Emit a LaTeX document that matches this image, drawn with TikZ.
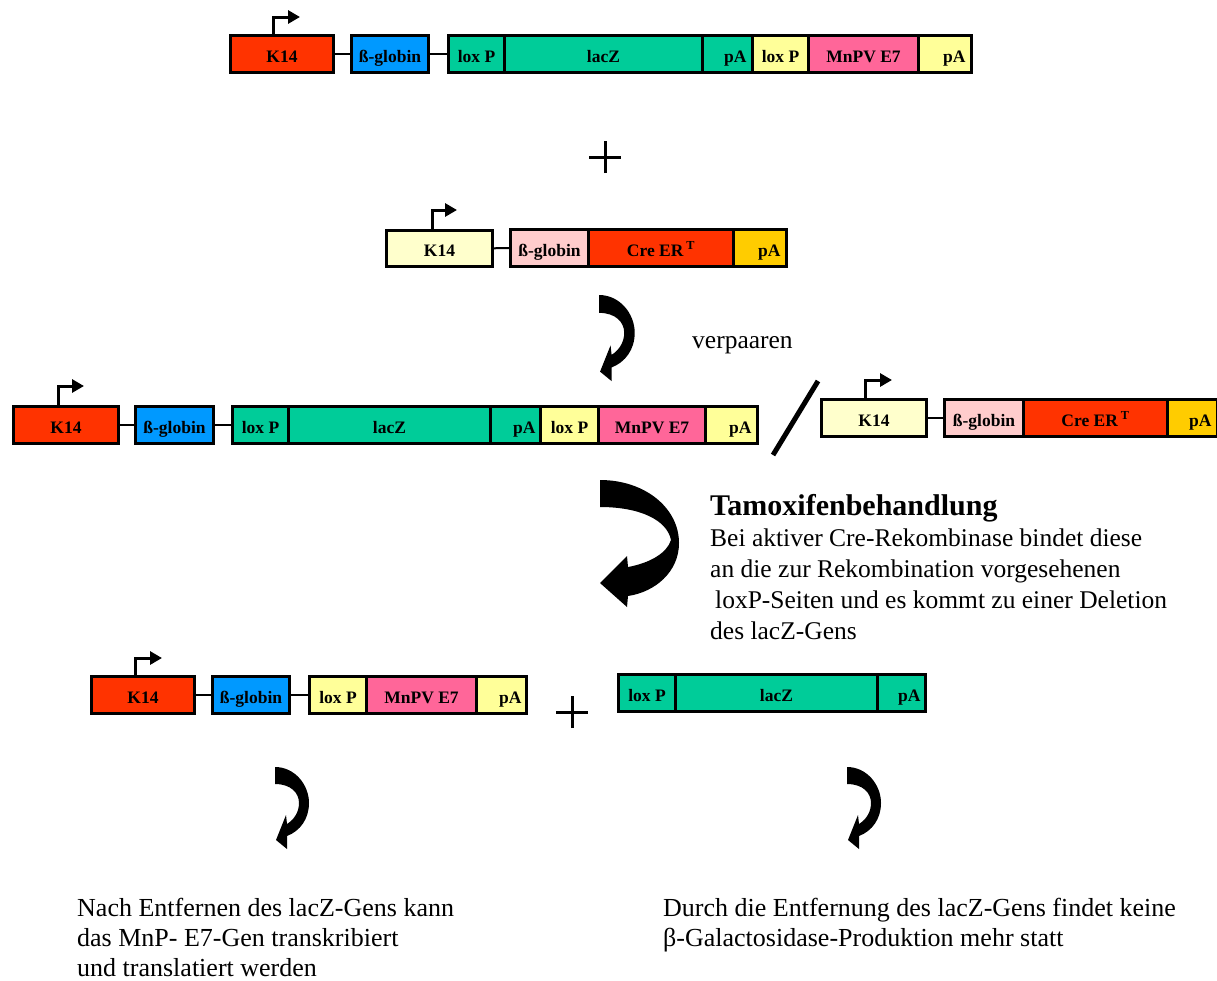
\documentclass[tikz,border=0pt]{standalone}
\usepackage{fontspec}
\setmainfont{Liberation Serif}
\usetikzlibrary{arrows.meta}
\definecolor{kred}{HTML}{FF3300}
\definecolor{gblue}{HTML}{0099FF}
\definecolor{lteal}{HTML}{00CC99}
\definecolor{lyel}{HTML}{FFFF99}
\definecolor{mpink}{HTML}{FF6699}
\definecolor{kcream}{HTML}{FFFFCC}
\definecolor{grose}{HTML}{FFCCCC}
\definecolor{porange}{HTML}{FFCC00}

\begin{document}
\begin{tikzpicture}
  [x=1pt, y=-1pt,
    seg/.style={draw, line width=3pt, inner sep=0pt, minimum height=37, anchor=north west,
      text height=17pt, text depth=1pt, font=\bfseries\fontsize{17.5}{17.5}\selectfont},
    link/.style={line width=2pt},
    prom/.style={line width=3pt, -{Triangle[length=12pt,width=13pt]}},
    plus/.style={line width=3pt},
    body/.style={anchor=base west, align=left, inner sep=0pt, font=\fontsize{25.5}{31}\selectfont},
    bendarrow/.pic={
      \fill (0,0) .. controls (20,0) and (34,18) .. (34,36)
        .. controls (34,52) and (25,64) .. (12,69) -- (12,82) -- (1,73) -- (11,48) -- (12,57)
        .. controls (20,52) and (24,44) .. (24,36) .. controls (24,26) and (16,17) .. (0,17) -- cycle;
    },
  ]
  \useasboundingbox (0,0) rectangle (1217,980);

  % first construct
  \node[seg, fill=kred, minimum width=103] (aK) at (229,34) {K14};
  \node[seg, fill=gblue, minimum width=77] (aG) at (350,34) {ß-globin};
  \node[seg, fill=lteal, minimum width=56] (aL) at (447,34) {lox P};
  \node[seg, fill=lteal, minimum width=198] (aZ) at (503,34) {lacZ};
  \node[seg, fill=lteal, minimum width=50, text width=38pt, align=right] (aA) at (701,34) {pA};
  \node[seg, fill=lyel, minimum width=56] (aL2) at (751,34) {lox P};
  \node[seg, fill=mpink, minimum width=110] (aE) at (807,34) {MnPV E7};
  \node[seg, fill=lyel, minimum width=53, text width=41pt, align=right] (aA2) at (917,34) {pA};
  \draw[link] (aK) -- (aG);
  \draw[link] (aG) -- (aL);
  \draw[prom] ([xshift=44pt]aK.north west) |- ++(27,-17);

  \coordinate (plusA) at (605,157);
  \draw[plus] ([xshift=-16pt]plusA) -- ([xshift=16pt]plusA)
    ([yshift=-16pt]plusA) -- ([yshift=16pt]plusA);

  % second construct
  \node[seg, fill=kcream, minimum width=106, minimum height=36] (bK) at (385,229) {K14};
  \node[seg, fill=grose, minimum width=78] (bG) at (509,228) {ß-globin};
  \node[seg, fill=kred, minimum width=145] (bC) at (587,228) {Cre ER\,\textsuperscript{T}};
  \node[seg, fill=porange, minimum width=53, text width=41pt, align=right] (bA) at (732,228) {pA};
  \draw[link] (bK) -- (bG);
  \draw[prom] ([xshift=47pt]bK.north west) |- ++(25,-19);

  \pic[scale=1.05] at (599,295) {bendarrow};
  \node[body] (pair) at (692,348) {verpaaren};

  % offspring
  \node[seg, fill=kred, minimum width=105] (cK) at (12,405) {K14};
  \node[seg, fill=gblue, minimum width=78] (cG) at (134,405) {ß-globin};
  \node[seg, fill=lteal, minimum width=56] (cL) at (231,405) {lox P};
  \node[seg, fill=lteal, minimum width=202] (cZ) at (287,405) {lacZ};
  \node[seg, fill=lteal, minimum width=50, text width=40pt, align=right] (cA) at (489,405) {pA};
  \node[seg, fill=lyel, minimum width=58] (cL2) at (539,405) {lox P};
  \node[seg, fill=mpink, minimum width=107] (cE) at (597,405) {MnPV E7};
  \node[seg, fill=lyel, minimum width=52, text width=40pt, align=right] (cA2) at (704,405) {pA};
  \draw[link] (cK) -- (cG);
  \draw[link] (cG) -- (cL);
  \draw[prom] ([xshift=46pt]cK.north west) |- ++(26,-19);

  \draw[line width=5pt] (818,381) -- (773,455);

  \node[seg, fill=kcream, minimum width=105] (dK) at (820,398) {K14};
  \node[seg, fill=grose, minimum width=79] (dG) at (943,398) {ß-globin};
  \node[seg, fill=kred, minimum width=144] (dC) at (1022,398) {Cre ER\,\textsuperscript{T}};
  \node[seg, fill=porange, minimum width=50, text width=38pt, align=right] (dA) at (1166,398) {pA};
  \draw[link] (dK) -- (dG);
  \draw[prom] ([xshift=45pt]dK.north west) |- ++(27,-18);

  % tamoxifen
  \fill (600,480) .. controls (645,480) and (679,508) .. (679,543)
    .. controls (679,572) and (655,592) .. (628,596) -- (627,607) -- (600,583) -- (627,556) -- (628,567)
    .. controls (650,563) and (667,553) .. (671,540) .. controls (667,520) and (640,507) .. (600,507) -- cycle;
  \node[body] (tamox) at (710,639) {{\bfseries\fontsize{30}{31}\selectfont Tamoxifenbehandlung}\\
    Bei aktiver Cre-Rekombinase bindet diese\\
    an die zur Rekombination vorgesehenen\\
    \hspace*{5pt}loxP-Seiten und es kommt zu einer Deletion\\
    des lacZ-Gens};

  % after deletion
  \node[seg, fill=kred, minimum width=103] (eK) at (90,675) {K14};
  \node[seg, fill=gblue, minimum width=77] (eG) at (211,675) {ß-globin};
  \node[seg, fill=lyel, minimum width=57] (eL) at (308,675) {lox P};
  \node[seg, fill=mpink, minimum width=110] (eE) at (365,675) {MnPV E7};
  \node[seg, fill=lyel, minimum width=50, text width=40pt, align=right] (eA) at (475,675) {pA};
  \draw[link] (eK) -- (eG);
  \draw[link] (eG) -- (eL);
  \draw[prom] ([xshift=45pt]eK.north west) |- ++(27,-17);

  \coordinate (plusB) at (572,712);
  \draw[plus] ([xshift=-16pt]plusB) -- ([xshift=16pt]plusB)
    ([yshift=-16pt]plusB) -- ([yshift=16pt]plusB);

  \node[seg, fill=lteal, minimum width=57] (fL) at (617,673) {lox P};
  \node[seg, fill=lteal, minimum width=202] (fZ) at (674,673) {lacZ};
  \node[seg, fill=lteal, minimum width=48, text width=38pt, align=right] (fA) at (876,673) {pA};

  \pic at (275,767) {bendarrow};
  \pic at (847,767) {bendarrow};

  \node[body, font=\fontsize{26}{30}\selectfont] (leftnote) at (77,976)
    {Nach Entfernen des lacZ-Gens kann\\das MnP- E7-Gen transkribiert\\und translatiert werden};
  \node[body, font=\fontsize{26}{30}\selectfont] (rightnote) at (663,946)
    {Durch die Entfernung des lacZ-Gens findet keine\\β-Galactosidase-Produktion mehr statt};
\end{tikzpicture}
\end{document}
